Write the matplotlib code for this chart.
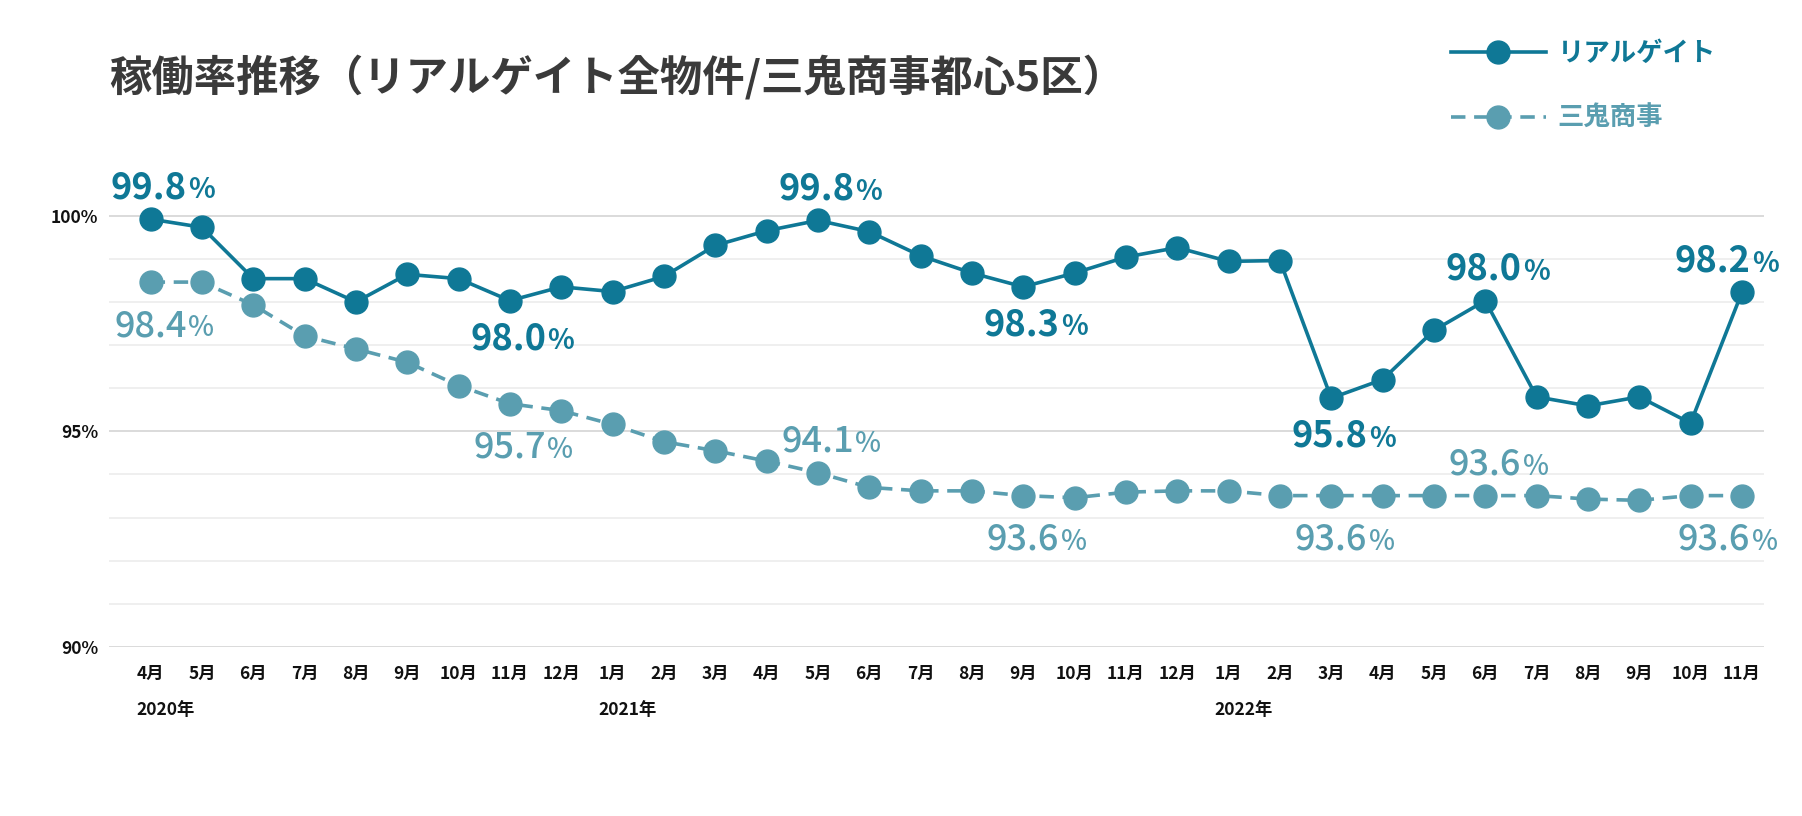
import matplotlib
matplotlib.use("Agg")
import matplotlib.pyplot as plt
from matplotlib.ticker import FixedLocator

plt.rcParams['font.family'] = ['Noto Sans CJK JP', 'DejaVu Sans']

months = ["4月", "5月", "6月", "7月", "8月", "9月", "10月", "11月", "12月",
          "1月", "2月", "3月", "4月", "5月", "6月", "7月", "8月", "9月", "10月", "11月", "12月",
          "1月", "2月", "3月", "4月", "5月", "6月", "7月", "8月", "9月", "10月", "11月"]
years = {0: "2020年", 9: "2021年", 21: "2022年"}

realgate = [99.92, 99.73, 98.54, 98.54, 98.00, 98.64, 98.54, 98.03, 98.35,
            98.24, 98.59, 99.31, 99.65, 99.89, 99.63, 99.07, 98.67, 98.35, 98.67, 99.04, 99.26,
            98.94, 98.96, 95.77, 96.20, 97.34, 98.03, 95.80, 95.59, 95.80, 95.19, 98.22]
miki = [98.46, 98.46, 97.93, 97.21, 96.91, 96.60, 96.06, 95.64, 95.48,
        95.16, 94.76, 94.55, 94.31, 94.04, 93.70, 93.62, 93.62, 93.51, 93.46, 93.59, 93.62,
        93.62, 93.51, 93.51, 93.51, 93.51, 93.51, 93.51, 93.43, 93.40, 93.51, 93.51]

# (index, text, above?)
realgate_labels = [(0, "99.8", True), (7, "98.0", False), (13, "99.8", True), (17, "98.3", False),
                   (23, "95.8", False), (26, "98.0", True), (31, "98.2", True)]
miki_labels = [(0, "98.4", False), (7, "95.7", False), (13, "94.1", True), (17, "93.6", False),
               (23, "93.6", False), (26, "93.6", True), (31, "93.6", False)]

dark = "#0f7896"
light = "#5a9eb0"

fig = plt.figure(figsize=(18.02, 8.16), dpi=100)
ax = fig.add_axes([0.0605, 0.2071, 0.9184, 0.6079])

x = list(range(len(months)))
l1, = ax.plot(x, realgate, color=dark, lw=2.6, marker="o", ms=16.5, label="リアルゲイト", zorder=4)
l2, = ax.plot(x, miki, color=light, lw=2.6, ls=(0, (4, 2.4)), marker="o", ms=16.5,
              label="三鬼商事", zorder=3)

def put_labels(labels, values, color, weight, up, down):
    for i, txt, above in labels:
        dy = up if above else down
        dx = 26 if i < len(values) - 1 else 6
        ax.annotate(txt, (i, values[i]), xytext=(dx, dy), textcoords="offset points",
                    ha="right", va="baseline", fontsize=26, color=color, fontweight=weight, zorder=6)
        ax.annotate("%", (i, values[i]), xytext=(dx + 1, dy), textcoords="offset points",
                    ha="left", va="baseline", fontsize=20, color=color, fontweight=weight, zorder=6)

put_labels(realgate_labels, realgate, dark, "bold", 15, -35)
put_labels(miki_labels, miki, light, "medium", 15, -39)

ax.set_xlim(-0.81, 31.43)
ax.set_ylim(90, 101.5)
ax.yaxis.set_major_locator(FixedLocator([90, 95, 100]))
ax.yaxis.set_minor_locator(FixedLocator([91, 92, 93, 94, 96, 97, 98, 99]))
ax.set_yticklabels(["90%", "95%", "100%"])
ax.grid(axis="y", which="major", color="#d4d4d4", lw=1.2)
ax.grid(axis="y", which="minor", color="#ececec", lw=1.2)
ax.set_axisbelow(True)
ax.set_xticks(x)
ax.set_xticklabels(months)
ax.tick_params(axis="both", which="both", length=0)
ax.tick_params(axis="x", pad=13, labelsize=12.5, labelcolor="#111111")
ax.tick_params(axis="y", pad=8, labelsize=12.5, labelcolor="#111111")
for lab in ax.get_xticklabels() + ax.get_yticklabels():
    lab.set_fontweight("bold")
for s in ax.spines.values():
    s.set_visible(False)

for i, y in years.items():
    ax.text(i - 0.27, -0.127, y, transform=ax.get_xaxis_transform(), ha="left", va="center",
            fontsize=12.5, fontweight="bold", color="#111111")

fig.text(0.0605, 0.905, "稼働率推移（リアルゲイト全物件/三鬼商事都心5区）", fontsize=30.5,
         fontweight="bold", color="#3a3a3a", ha="left", va="center")

leg = fig.legend(handles=[l1, l2], loc="upper left", bbox_to_anchor=(0.805, 0.951),
                 frameon=False, fontsize=19, handlelength=3.6, handletextpad=0.45,
                 labelspacing=1.45, borderpad=0, borderaxespad=0, labelcolor="linecolor")
for t in leg.get_texts():
    t.set_fontweight("bold")

fig.savefig("out.png", dpi=100, facecolor="white")
